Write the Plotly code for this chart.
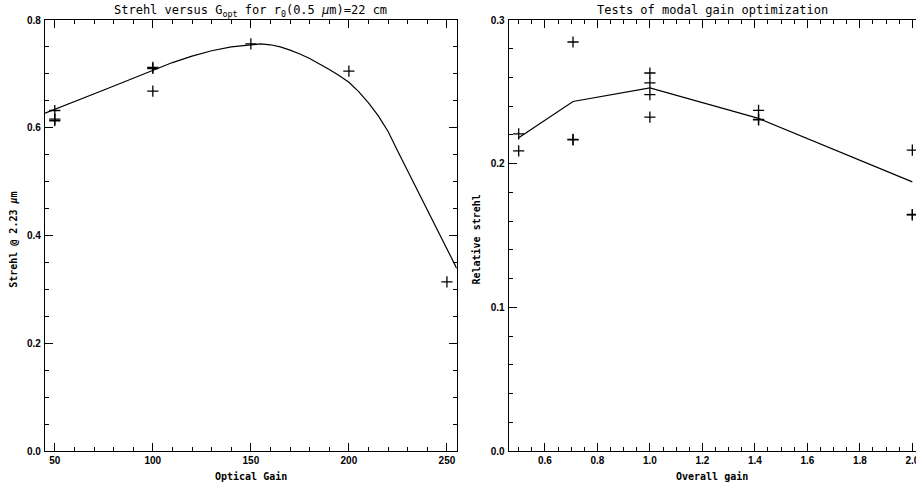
import plotly.graph_objects as go

# Left panel: Strehl vs optical gain
gain_pts_x = [50, 50, 50, 100, 100, 100, 150, 200, 250]
gain_pts_y = [0.632, 0.616, 0.613, 0.710, 0.712, 0.668, 0.7555, 0.705, 0.314]
fit_x = [45, 60, 75, 90, 100, 110, 120, 130, 140, 150, 155, 160, 165, 170, 175, 180,
         185, 190, 195, 200, 205, 210, 215, 220, 225, 230, 235, 240, 245, 250, 255]
fit_y = [0.627, 0.648, 0.670, 0.692, 0.707, 0.721, 0.733, 0.743, 0.750, 0.7545,
         0.7555, 0.7540, 0.7500, 0.7440, 0.7370, 0.7285, 0.7190, 0.7080, 0.6970,
         0.6845, 0.6670, 0.6460, 0.6220, 0.5930, 0.5560, 0.5200, 0.4850,
         0.4480, 0.4120, 0.3760, 0.3390]

# Right panel: relative strehl vs overall gain
overall_pts_x = [0.5, 0.5, 0.707, 0.707, 0.707, 1.0, 1.0, 1.0, 1.0,
                 1.414, 1.414, 1.414, 2.0, 2.0, 2.0]
overall_pts_y = [0.2208, 0.2089, 0.2847, 0.2169, 0.2165, 0.2631, 0.2563, 0.2480,
                 0.2324, 0.2371, 0.2308, 0.2305, 0.2094, 0.1646, 0.1643]
mean_x = [0.5, 0.707, 1.0, 1.414, 2.0]
mean_y = [0.218, 0.2433, 0.2528, 0.2315, 0.1873]

BLACK = "black"
MONO = "DejaVu Sans Mono"
SANS = "Liberation Sans"

marker = dict(symbol="cross-thin", size=8, line=dict(color=BLACK, width=1.3), color=BLACK)

fig = go.Figure()
fig.add_trace(go.Scatter(x=fit_x, y=fit_y, mode="lines", line=dict(color=BLACK, width=1.2),
                         xaxis="x", yaxis="y", showlegend=False))
fig.add_trace(go.Scatter(x=gain_pts_x, y=gain_pts_y, mode="markers", marker=marker,
                         xaxis="x", yaxis="y", showlegend=False))
fig.add_trace(go.Scatter(x=mean_x, y=mean_y, mode="lines", line=dict(color=BLACK, width=1.2),
                         xaxis="x2", yaxis="y2", showlegend=False))
fig.add_trace(go.Scatter(x=overall_pts_x, y=overall_pts_y, mode="markers", marker=marker,
                         xaxis="x2", yaxis="y2", showlegend=False, cliponaxis=False))

def axis_common(**kw):
    d = dict(showgrid=False, zeroline=False, showline=True, linecolor=BLACK, linewidth=1.2,
             mirror="ticks", ticks="inside", ticklen=8, tickwidth=1, tickcolor=BLACK,
             automargin=False, ticklabeloverflow="allow",
             tickfont=dict(family=SANS, size=10, color=BLACK, weight="bold"))
    d.update(kw)
    return d

minor_kw = dict(ticklen=4, ticks="inside", tickcolor=BLACK, tickwidth=1)

title_font = dict(family=MONO, size=10, color=BLACK, weight="bold")

fig.update_layout(
    width=916, height=484,
    margin=dict(l=45, r=0, t=20, b=33, autoexpand=False),
    paper_bgcolor="white", plot_bgcolor="white",
    xaxis=axis_common(domain=[0, 0.4727], range=[45, 255], anchor="y",
                      tickmode="array", tickvals=[50, 100, 150, 200, 250],
                      minor=dict(dtick=10, tick0=0, **minor_kw)),
    yaxis=axis_common(domain=[0, 1], range=[0, 0.8], anchor="x",
                      tickvals=[0.0, 0.2, 0.4, 0.6, 0.8], ticktext=["0.0", "0.2", "0.4", "0.6", "0.8"],
                      minor=dict(dtick=0.05, tick0=0, **minor_kw), ticklabelstandoff=1),
    xaxis2=axis_common(domain=[0.5324, 1.0], range=[0.462, 2.014], anchor="y2",
                       tickvals=[0.6, 0.8, 1.0, 1.2, 1.4, 1.6, 1.8, 2.0],
                       ticktext=["0.6", "0.8", "1.0", "1.2", "1.4", "1.6", "1.8", "2.0"],
                       minor=dict(dtick=0.05, tick0=0, **minor_kw)),
    yaxis2=axis_common(domain=[0, 1], range=[0, 0.3], anchor="x2", mirror=False,
                       tickvals=[0.0, 0.1, 0.2, 0.3], ticktext=["0.0", "0.1", "0.2", "0.3"],
                       minor=dict(dtick=0.02, tick0=0, **minor_kw), ticklabelstandoff=1),
    # right-hand axis of the second panel lies just beyond the window: only the tips of its major ticks show
    yaxis3=dict(overlaying="y2", side="right", anchor="x2", range=[0, 0.3],
                tickvals=[0.0, 0.1, 0.2, 0.3], ticks="inside", ticklen=4, tickwidth=1,
                tickcolor=BLACK, showline=False, showgrid=False, zeroline=False,
                showticklabels=False, automargin=False),
    annotations=[
        dict(text="Strehl versus G<sub>opt</sub> for r<sub>0</sub>(0.5 <i>μ</i>m)=22 cm",
             xref="paper", yref="paper", x=0.2364, y=1.0, xanchor="center", yanchor="middle", yshift=9,
             showarrow=False, font=dict(family=MONO, size=12, color=BLACK)),
        dict(text="Tests of modal gain optimization",
             xref="paper", yref="paper", x=0.7662, y=1.0, xanchor="center", yanchor="middle", yshift=10,
             showarrow=False, font=dict(family=MONO, size=12, color=BLACK)),
        dict(text="Optical Gain", xref="paper", yref="paper", x=0.2364, y=0,
             xanchor="center", yanchor="middle", yshift=-25, showarrow=False, font=title_font),
        dict(text="Overall gain", xref="paper", yref="paper", x=0.7662, y=0,
             xanchor="center", yanchor="middle", yshift=-25, showarrow=False, font=title_font),
        dict(text="Strehl @ 2.23 <i>μ</i>m", xref="paper", yref="paper", x=0, y=0.49,
             xanchor="center", yanchor="middle", xshift=-31, textangle=-90,
             showarrow=False, font=title_font),
        dict(text="Relative strehl", xref="paper", yref="paper", x=0.5324, y=0.49,
             xanchor="center", yanchor="middle", xshift=-32, textangle=-90,
             showarrow=False, font=title_font),
    ],
)

# remove the default 8px page margin so the figure fills the window exactly
fig.write_html("out.html", config={"displayModeBar": False},
               post_script="document.body.style.margin='0';")
